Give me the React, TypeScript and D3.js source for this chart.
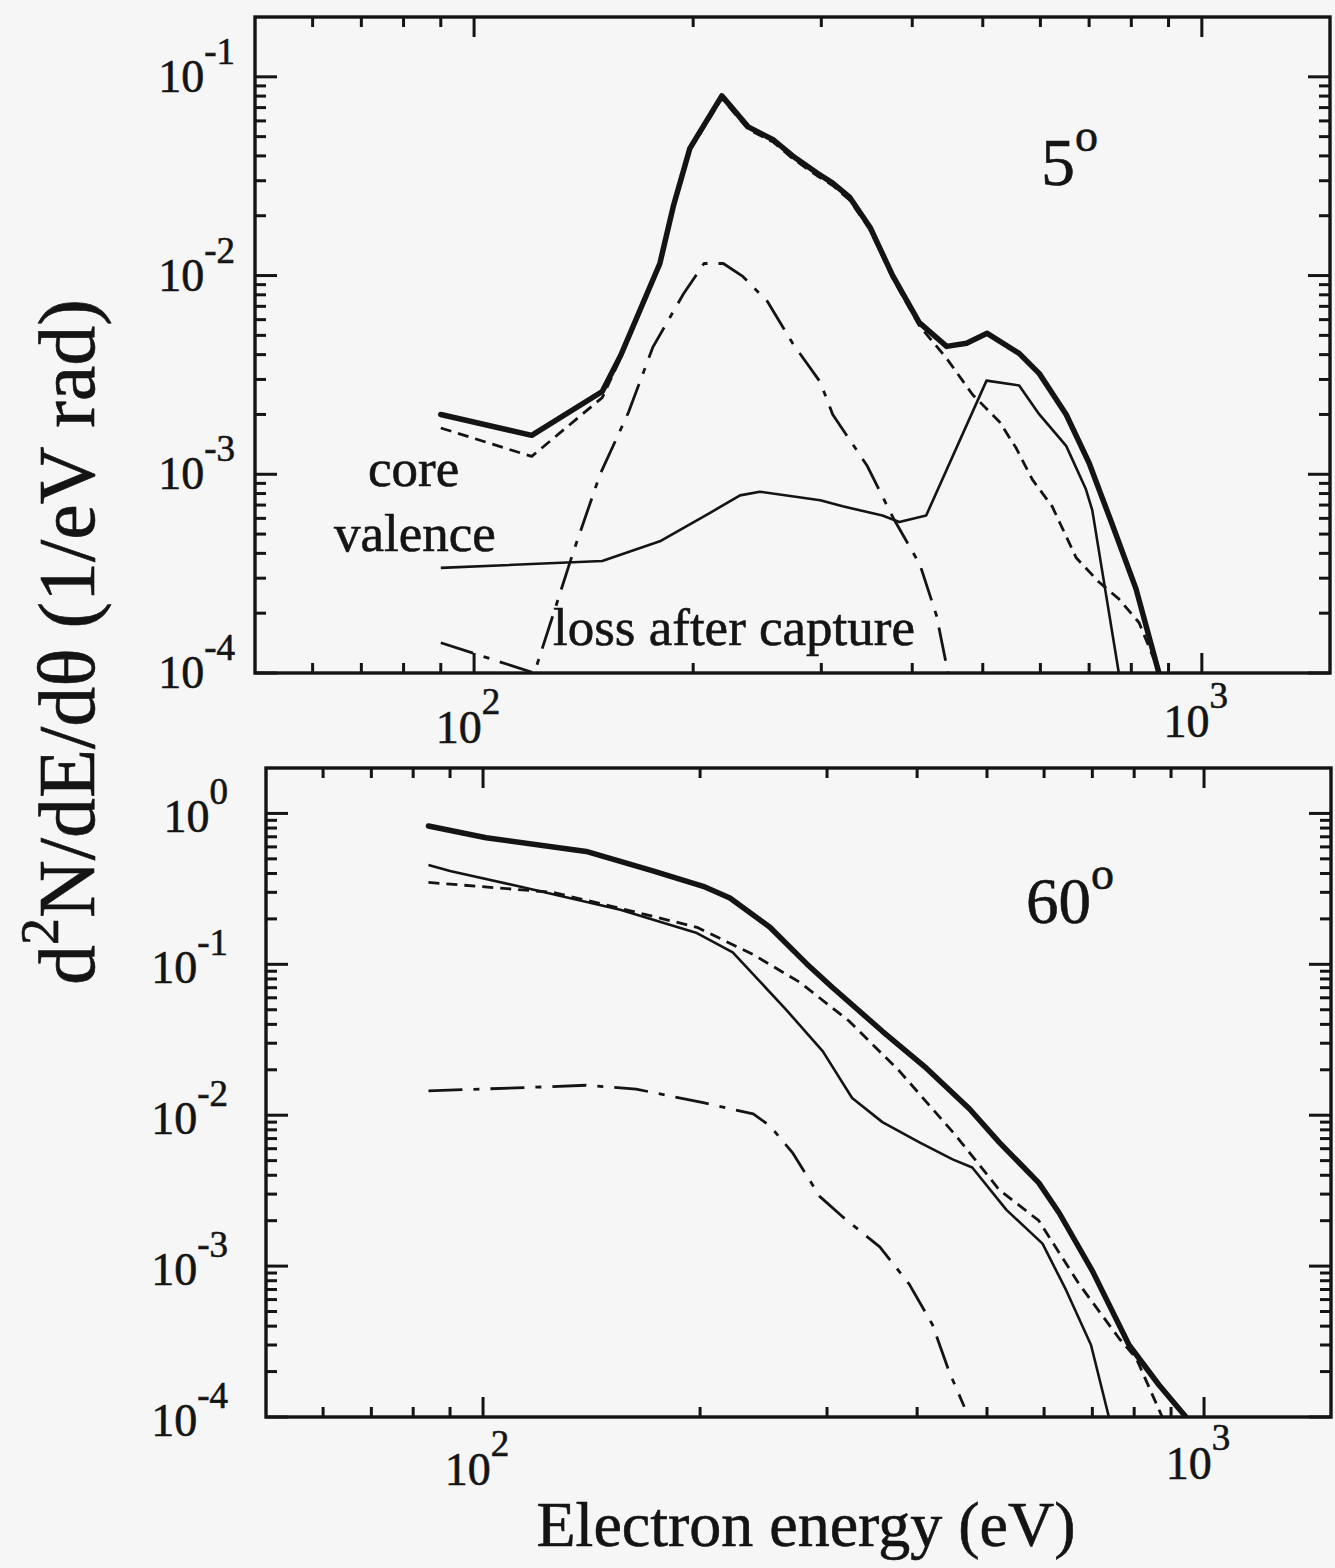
import React from 'react';
import * as d3 from 'd3';

const W = 1335;
const H = 1568;

// ---------- 5 degree panel ----------
const e5Total = [90, 120, 150, 159, 180, 188, 198, 219, 238, 258, 274, 296, 311, 328, 350, 376, 409, 446, 475, 507, 561, 598, 651, 700, 753, 812, 873];
const v5Total = [2.0e-3, 1.57e-3, 2.61e-3, 3.96e-3, 0.0115, 0.0226, 0.0438, 0.0802, 0.056, 0.0481, 0.040, 0.0328, 0.0292, 0.0248, 0.0175, 0.0100, 5.8e-3, 4.4e-3, 4.56e-3, 5.12e-3, 4.06e-3, 3.21e-3, 2.0e-3, 1.14e-3, 5.6e-4, 2.65e-4, 1.0e-4];

const e5Core = [90, 120, 150, 159, 180, 188, 198, 219, 238, 258, 274, 296, 311, 328, 350, 376, 409, 446, 484, 527, 556, 585, 623, 672, 722, 769, 820, 875];
const v5Core = [1.71e-3, 1.23e-3, 2.43e-3, 3.85e-3, 0.0112, 0.022, 0.0428, 0.078, 0.0545, 0.0468, 0.0388, 0.0318, 0.0284, 0.024, 0.017, 0.0097, 5.6e-3, 3.83e-3, 2.52e-3, 1.84e-3, 1.35e-3, 9.4e-4, 6.87e-4, 3.8e-4, 2.87e-4, 2.36e-4, 1.79e-4, 1.0e-4];

const e5Val = [90, 150, 180, 211, 232, 247, 299, 321, 364, 384, 418, 506, 561, 598, 651, 693, 707, 769];
const v5Val = [3.38e-4, 3.66e-4, 4.6e-4, 6.4e-4, 7.83e-4, 8.17e-4, 7.4e-4, 6.9e-4, 6.2e-4, 5.75e-4, 6.2e-4, 2.96e-3, 2.8e-3, 2.0e-3, 1.39e-3, 8.4e-4, 6.6e-4, 1.0e-4];

const e5Loss = [90, 121, 137, 149, 163, 176, 194, 207, 220, 234, 253, 274, 299, 311, 347, 376, 410, 432, 448];
const v5Loss = [1.42e-4, 1.0e-4, 4.1e-4, 1.0e-3, 2.05e-3, 4.35e-3, 8.1e-3, 0.0115, 0.0115, 9.9e-3, 7.4e-3, 4.56e-3, 2.91e-3, 2.0e-3, 1.1e-3, 6.1e-4, 3.5e-4, 1.94e-4, 1.0e-4];

// ---------- 60 degree panel ----------
const e60Total = [84, 101, 139, 172, 202, 220, 250, 281, 305, 358, 412, 473, 520, 590, 630, 700, 787, 866, 944];
const v60Total = [0.825, 0.69, 0.56, 0.416, 0.329, 0.275, 0.176, 0.101, 0.0705, 0.036, 0.0205, 0.011, 6.6e-3, 3.56e-3, 2.24e-3, 9.3e-4, 3.0e-4, 1.63e-4, 1.0e-4];

const e60Core = [84, 125, 155, 198, 237, 275, 322, 378, 453, 520, 590, 671, 763, 805, 875];
const v60Core = [0.349, 0.30, 0.235, 0.176, 0.116, 0.076, 0.042, 0.0196, 7.3e-3, 3.2e-3, 2.0e-3, 7.6e-4, 3.3e-4, 2.46e-4, 1.0e-4];

const e60Val = [84, 90, 112, 155, 198, 222, 263, 296, 325, 358, 403, 448, 477, 532, 597, 644, 697, 738];
const v60Val = [0.455, 0.416, 0.329, 0.23, 0.161, 0.12, 0.0503, 0.0265, 0.013, 9.0e-3, 6.6e-3, 5.1e-3, 4.5e-3, 2.36e-3, 1.41e-3, 6.9e-4, 3.0e-4, 1.0e-4];

const e60Loss = [84, 117, 139, 163, 202, 237, 250, 269, 293, 315, 355, 390, 420, 443, 465];
const v60Loss = [0.0145, 0.0153, 0.0158, 0.0149, 0.0121, 0.0102, 8.5e-3, 5.6e-3, 2.9e-3, 2.13e-3, 1.34e-3, 7.6e-4, 4.1e-4, 2.0e-4, 1.17e-4];

// ---------- ticks ----------
const xDomain = [50, 1500];
const xMajor = [100, 1000];
const xMinor = [60, 70, 80, 90, 200, 300, 400, 500, 600, 700, 800, 900];
const yMajor5 = [1e-4, 1e-3, 1e-2, 1e-1];
const yMajor60 = [1e-4, 1e-3, 1e-2, 1e-1, 1];
const minorMult = [2, 3, 4, 5, 6, 7, 8, 9];

const FONT = '"Liberation Serif", "Times New Roman", serif';
const INK = '#141414';

type Series = { e: number[]; v: number[]; kind: 'total' | 'core' | 'val' | 'loss' };

const styleFor = (kind: Series['kind']) => {
  switch (kind) {
    case 'total':
      return { strokeWidth: 5.5, dash: undefined as string | undefined };
    case 'core':
      return { strokeWidth: 2.8, dash: '11 7' };
    case 'val':
      return { strokeWidth: 2.6, dash: undefined };
    default:
      return { strokeWidth: 2.8, dash: '34 11 6 11' };
  }
};

type PanelProps = {
  id: string;
  x0: number; x1: number; y0: number; y1: number;
  yDomain: [number, number];
  yMajor: number[];
  series: Series[];
  yLabelRight: number;
  yLabelDy: number;
  xLabelY: number;
};

function Panel(p: PanelProps) {
  const x = d3.scaleLog().domain(xDomain).range([p.x0, p.x1]);
  const y = d3.scaleLog().domain(p.yDomain).range([p.y1, p.y0]);
  const line = d3
    .line<[number, number]>()
    .x((d) => x(d[0]))
    .y((d) => y(d[1]));

  const yMinor: number[] = [];
  p.yMajor.forEach((m) => {
    minorMult.forEach((k) => {
      const v = m * k;
      if (v > p.yDomain[0] && v < p.yDomain[1]) yMinor.push(v);
    });
  });

  const majL = 22;
  const minL = 11;
  return (
    <g>
      <defs>
        <clipPath id={p.id}>
          <rect x={p.x0} y={p.y0} width={p.x1 - p.x0} height={p.y1 - p.y0} />
        </clipPath>
      </defs>
      <g clipPath={`url(#${p.id})`}>
        {p.series.map((s, i) => {
          const st = styleFor(s.kind);
          const pts = s.e.map((e, j) => [e, s.v[j]] as [number, number]);
          return (
            <path
              key={i}
              d={line(pts) || ''}
              fill="none"
              stroke={INK}
              strokeWidth={st.strokeWidth}
              strokeDasharray={st.dash}
              strokeLinejoin="round"
              strokeLinecap={s.kind === 'total' ? 'round' : 'butt'}
            />
          );
        })}
      </g>
      {/* ticks */}
      <g stroke={INK} strokeWidth={3}>
        {p.yMajor.map((v) => (
          <g key={'ym' + v}>
            <line x1={p.x0} x2={p.x0 + majL} y1={y(v)} y2={y(v)} />
            <line x1={p.x1} x2={p.x1 - majL} y1={y(v)} y2={y(v)} />
          </g>
        ))}
        {yMinor.map((v) => (
          <g key={'yn' + v}>
            <line x1={p.x0} x2={p.x0 + minL} y1={y(v)} y2={y(v)} />
            <line x1={p.x1} x2={p.x1 - minL} y1={y(v)} y2={y(v)} />
          </g>
        ))}
        {xMajor.map((v) => (
          <g key={'xm' + v}>
            <line x1={x(v)} x2={x(v)} y1={p.y0} y2={p.y0 + 20} />
            <line x1={x(v)} x2={x(v)} y1={p.y1} y2={p.y1 - 20} />
          </g>
        ))}
        {xMinor.map((v) => (
          <g key={'xn' + v}>
            <line x1={x(v)} x2={x(v)} y1={p.y0} y2={p.y0 + 10} />
            <line x1={x(v)} x2={x(v)} y1={p.y1} y2={p.y1 - 10} />
          </g>
        ))}
      </g>
      <rect
        x={p.x0}
        y={p.y0}
        width={p.x1 - p.x0}
        height={p.y1 - p.y0}
        fill="none"
        stroke={INK}
        strokeWidth={3.4}
      />
      {/* tick labels */}
      <g fontFamily={FONT} fill={INK} stroke={INK} strokeWidth={0.6}>
        {p.yMajor.map((v) => (
          <text key={'yl' + v} x={p.yLabelRight} y={y(v) + p.yLabelDy} textAnchor="end" fontSize={46}>
            10
            <tspan fontSize={37} dy={-28}>
              {String(Math.round(Math.log10(v)))}
            </tspan>
          </text>
        ))}
        {xMajor.map((v) => (
          <text key={'xl' + v} x={x(v) - 6} y={p.xLabelY - (v === 1000 ? 6 : 0)} textAnchor="middle" fontSize={46}>
            10
            <tspan fontSize={37} dy={-29}>
              {String(Math.round(Math.log10(v)))}
            </tspan>
          </text>
        ))}
      </g>
    </g>
  );
}

export default function App() {
  const top: Series[] = [
    { e: e5Loss, v: v5Loss, kind: 'loss' },
    { e: e5Val, v: v5Val, kind: 'val' },
    { e: e5Core, v: v5Core, kind: 'core' },
    { e: e5Total, v: v5Total, kind: 'total' },
  ];
  const bottom: Series[] = [
    { e: e60Loss, v: v60Loss, kind: 'loss' },
    { e: e60Val, v: v60Val, kind: 'val' },
    { e: e60Core, v: v60Core, kind: 'core' },
    { e: e60Total, v: v60Total, kind: 'total' },
  ];
  return (
    <svg
      width={W}
      height={H}
      viewBox={`0 0 ${W} ${H}`}
      style={{ position: 'absolute', left: 0, top: 0, background: '#f6f6f6' }}
    >
      <rect x={0} y={0} width={W} height={H} fill="#f6f6f6" />
      <Panel
        id="clip5"
        x0={255}
        x1={1330}
        y0={17}
        y1={673}
        yDomain={[1e-4, 0.2]}
        yMajor={yMajor5}
        series={top}
        yLabelRight={235}
        yLabelDy={15}
        xLabelY={743}
      />
      <Panel
        id="clip60"
        x0={266}
        x1={1331}
        y0={768}
        y1={1417}
        yDomain={[1e-4, 2]}
        yMajor={yMajor60}
        series={bottom}
        yLabelRight={228}
        yLabelDy={19}
        xLabelY={1485}
      />
      <g fontFamily={FONT} fill={INK} stroke={INK} strokeWidth={0.6}>
        <text x={1041} y={185} fontSize={68}>
          5
          <tspan fontSize={46} dy={-34}>o</tspan>
        </text>
        <text x={1026} y={923} fontSize={65}>
          60
          <tspan fontSize={46} dy={-34}>o</tspan>
        </text>
        <text x={368} y={486} fontSize={53}>core</text>
        <text x={334} y={551} fontSize={53}>valence</text>
        <text x={553} y={645} fontSize={53}>loss after capture</text>
        <text x={806} y={1546} fontSize={64} textAnchor="middle">
          Electron energy (eV)
        </text>
        <text transform="translate(94,642) rotate(-90)" fontSize={80} textAnchor="middle">
          d
          <tspan fontSize={54} dy={-36}>2</tspan>
          <tspan dy={36}>N/dE/dθ (1/eV rad)</tspan>
        </text>
      </g>
    </svg>
  );
}
